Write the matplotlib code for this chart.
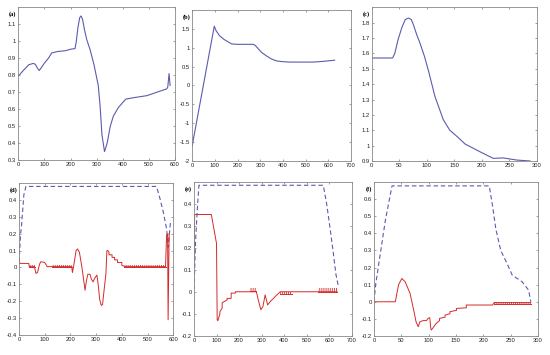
import matplotlib
matplotlib.use("Agg")
import matplotlib.pyplot as plt

plt.rcParams['font.family'] = ['Liberation Sans', 'DejaVu Sans']
plt.rcParams['hatch.linewidth'] = 0.6

BLUE = '#5b5bb0'
RED = '#d42a2a'

# ---- data ----
a_x = [0, 20, 40, 57, 65, 72, 80, 88, 100, 115, 128, 150, 180, 204, 217, 222, 228, 235, 240, 246, 253, 262, 275, 290, 306, 313, 320, 330, 340, 352, 364, 383, 400, 412, 450, 492, 530, 568, 572, 577, 581]
a_y = [0.795, 0.83, 0.862, 0.87, 0.865, 0.845, 0.828, 0.845, 0.872, 0.9, 0.932, 0.94, 0.945, 0.955, 0.957, 1.0, 1.08, 1.14, 1.15, 1.13, 1.07, 1.01, 0.95, 0.86, 0.74, 0.62, 0.45, 0.35, 0.4, 0.5, 0.56, 0.61, 0.64, 0.66, 0.67, 0.68, 0.70, 0.72, 0.73, 0.81, 0.74]

b_x = [0, 5, 97, 105, 120, 140, 174, 200, 269, 278, 287, 305, 328, 350, 372, 400, 430, 480, 533, 580, 628]
b_y = [-1.6, -1.42, 1.57, 1.45, 1.32, 1.22, 1.1, 1.09, 1.09, 1.06, 1.0, 0.88, 0.78, 0.7, 0.65, 0.63, 0.62, 0.62, 0.62, 0.64, 0.67]

c_x = [0, 38, 42, 48, 55, 61, 67, 72, 76, 82, 88, 96, 103, 115, 130, 142, 155, 170, 197, 221, 239, 264, 288]
c_y = [1.57, 1.57, 1.6, 1.69, 1.77, 1.82, 1.83, 1.82, 1.785, 1.72, 1.665, 1.58, 1.49, 1.32, 1.17, 1.1, 1.06, 1.01, 0.96, 0.917, 0.92, 0.906, 0.9]

d_ref_x = [0, 6, 10, 19, 27, 535, 548, 561, 574, 580, 590]
d_ref_y = [0.03, 0.19, 0.25, 0.43, 0.48, 0.48, 0.41, 0.33, 0.23, 0.12, 0.28]
d_x = [0, 3, 38, 40, 60, 66, 72, 80, 85, 100, 110, 205, 208, 215, 222, 228, 235, 245, 252, 257, 262, 268, 276, 282, 288, 296, 303, 308, 314, 320, 325, 332, 338, 342, 346, 350, 350, 362, 362, 372, 372, 383, 383, 400, 400, 415, 570, 574, 578, 580, 584]
d_y = [0.06, 0.024, 0.024, 0.005, 0.005, -0.035, -0.03, 0.02, 0.034, 0.03, 0.005, 0.005, -0.03, 0.03, 0.1, 0.11, 0.09, 0.0, -0.08, -0.135, -0.08, -0.04, -0.04, -0.07, -0.085, -0.06, -0.045, -0.1, -0.19, -0.225, -0.22, -0.12, -0.04, 0.1, 0.1, 0.09, 0.075, 0.075, 0.06, 0.06, 0.045, 0.045, 0.03, 0.03, 0.012, 0.005, 0.005, 0.19, 0.2, -0.31, 0.2]
d_chatter = [(40, 62, 0.0, 0.012), (130, 205, 0.0, 0.015), (410, 570, 0.0, 0.015)]

e_ref_x = [0, 7, 15, 22, 574, 589, 604, 618, 630, 640]
e_ref_y = [0.01, 0.23, 0.38, 0.485, 0.485, 0.4, 0.29, 0.18, 0.08, 0.03]
e_x = [0, 3, 77, 100, 103, 106, 115, 115, 125, 125, 147, 147, 165, 165, 184, 184, 199, 277, 287, 297, 306, 316, 327, 339, 353, 368, 383, 635]
e_y = [0.12, 0.352, 0.352, 0.22, -0.128, -0.132, -0.1, -0.09, -0.075, -0.05, -0.037, -0.03, -0.03, -0.006, -0.006, 0.0, 0.0, 0.0, -0.044, -0.082, -0.067, -0.014, -0.06, -0.044, -0.03, -0.014, 0.0, 0.0]
e_chatter = [(250, 277, 0.002, 0.017), (383, 434, -0.012, 0.0), (552, 633, 0.0, 0.015)]

f_ref_x = [0, 3, 12, 21, 33, 211, 217, 223, 232, 244, 253, 271, 283, 287]
f_ref_y = [0.0, 0.1, 0.29, 0.48, 0.677, 0.677, 0.56, 0.425, 0.30, 0.22, 0.156, 0.117, 0.068, 0.0]
f_x = [0, 39, 45, 51, 57, 66, 72, 77, 81, 84, 90, 96, 99, 102, 104, 105, 114, 120, 120, 130, 130, 139, 139, 151, 151, 169, 169, 217, 220, 287]
f_y = [0.0, 0.0, 0.1, 0.136, 0.117, 0.049, -0.039, -0.117, -0.146, -0.117, -0.11, -0.11, -0.097, -0.093, -0.156, -0.165, -0.126, -0.11, -0.097, -0.09, -0.078, -0.07, -0.058, -0.05, -0.039, -0.035, -0.019, -0.019, -0.005, -0.005]
f_chatter = [(220, 287, -0.015, 0.0)]

panels = [
    dict(label='(a)', pos=[0.0333, 0.549, 0.285, 0.430], xlim=(0, 600), ylim=(0.3, 1.2),
         xt=[0, 100, 200, 300, 400, 500, 600], yt=[0.3, 0.4, 0.5, 0.6, 0.7, 0.8, 0.9, 1, 1.1]),
    dict(label='(b)', pos=[0.3496, 0.5465, 0.2885, 0.4254], xlim=(0, 700), ylim=(-2, 2),
         xt=[0, 100, 200, 300, 400, 500, 600, 700], yt=[-2, -1.5, -1, -0.5, 0, 0.5, 1, 1.5]),
    dict(label='(c)', pos=[0.6758, 0.5465, 0.300, 0.433], xlim=(0, 300), ylim=(0.9, 1.9),
         xt=[0, 50, 100, 150, 200, 250, 300], yt=[0.9, 1, 1.1, 1.2, 1.3, 1.4, 1.5, 1.6, 1.7, 1.8]),
    dict(label='(d)', pos=[0.0345, 0.0563, 0.2805, 0.428], xlim=(0, 600), ylim=(-0.4, 0.5),
         xt=[0, 100, 200, 300, 400, 500, 600], yt=[-0.4, -0.3, -0.2, -0.1, 0, 0.1, 0.2, 0.3, 0.4]),
    dict(label='(e)', pos=[0.3527, 0.0544, 0.2867, 0.433], xlim=(0, 700), ylim=(-0.2, 0.5),
         xt=[0, 100, 200, 300, 400, 500, 600, 700], yt=[-0.2, -0.1, 0, 0.1, 0.2, 0.3, 0.4]),
    dict(label='(f)', pos=[0.680, 0.0535, 0.298, 0.434], xlim=(0, 300), ylim=(-0.2, 0.7),
         xt=[0, 50, 100, 150, 200, 250, 300], yt=[-0.2, -0.1, 0, 0.1, 0.2, 0.3, 0.4, 0.5, 0.6]),
]

fig = plt.figure(figsize=(5.5, 3.55), dpi=100)
axes = []
for p in panels:
    ax = fig.add_axes(p['pos'])
    ax.set_xlim(*p['xlim'])
    ax.set_ylim(*p['ylim'])
    ax.set_xticks(p['xt'])
    ax.set_yticks(p['yt'])
    ax.set_xticklabels([f'{v:g}' for v in p['xt']])
    ax.set_yticklabels([f'{v:g}' for v in p['yt']])
    ax.tick_params(direction='in', length=1.6, width=0.4, labelsize=4.2, pad=1.5,
                   top=True, right=True, colors='#555555', labelcolor='#222222')
    for s in ax.spines.values():
        s.set_color('#888888')
        s.set_linewidth(0.6)
    ax.text(-0.012, 0.955, p['label'], transform=ax.transAxes, ha='right', va='center',
            fontsize=4.5, fontweight='bold', family=['Liberation Serif', 'DejaVu Serif'])
    axes.append(ax)

axes[0].plot(a_x, a_y, color=BLUE, lw=0.8)
axes[1].plot(b_x, b_y, color=BLUE, lw=0.8)
axes[2].plot(c_x, c_y, color=BLUE, lw=0.8)

for ax, rx, ry, x, y, ch in [(axes[3], d_ref_x, d_ref_y, d_x, d_y, d_chatter),
                             (axes[4], e_ref_x, e_ref_y, e_x, e_y, e_chatter),
                             (axes[5], f_ref_x, f_ref_y, f_x, f_y, f_chatter)]:
    ax.plot(rx, ry, color=BLUE, lw=0.8, ls=(0, (4, 2.5)))
    ax.plot(x, y, color=RED, lw=0.7)
    for x0, x1, y0, y1 in ch:
        ax.plot([x0, x1], [y0, y0], color=RED, lw=0.7)
        ax.fill_between([x0, x1], [y0, y0], [y1, y1], facecolor='none', edgecolor=RED,
                        hatch='|' * 8, linewidth=0)

fig.savefig('out.png', dpi=100)
